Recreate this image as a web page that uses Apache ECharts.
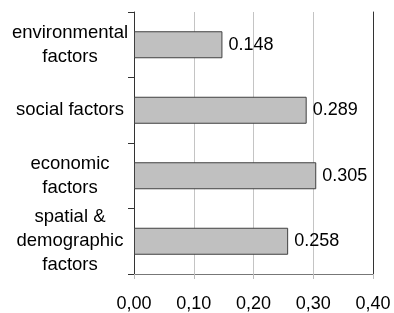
<!DOCTYPE html>
<html>
<head>
<meta charset="utf-8">
<script src="https://cdn.jsdelivr.net/npm/echarts@6/dist/echarts.min.js"></script>
<style>
	html, body { margin: 0; padding: 0; background: #fff; }
	#main { width: 394px; height: 313px; }
</style>
</head>
<body>
<div id="main"></div>
<script>
	// categories, top to bottom
	var categories = ['environmental\nfactors', 'social factors', 'economic\nfactors', 'spatial &\ndemographic\nfactors'];
	var values = [0.148, 0.289, 0.305, 0.258];
	var xTicks = [0, 0.1, 0.2, 0.3, 0.4];

	var font = 'Liberation Sans, Arial, sans-serif';
	var chart = echarts.init(document.getElementById('main'));

	chart.setOption({
		animation: false,
		grid: { left: 134, right: 21, top: 12, bottom: 37 },
		xAxis: {
			type: 'value',
			min: xTicks[0],
			max: xTicks[xTicks.length - 1],
			interval: 0.1,
			axisLine: { show: true, lineStyle: { color: '#777', width: 1 } },
			axisTick: { show: true, length: 5, lineStyle: { color: '#bbb' } },
			splitLine: { show: true, lineStyle: { color: '#c4c4c4', width: 1 } },
			axisLabel: {
				margin: 21,
				fontSize: 18,
				fontFamily: font,
				color: '#000',
				formatter: function(v){ return v.toFixed(2).replace('.', ','); }
			}
		},
		yAxis: [
			{
				type: 'category',
				inverse: true,
				data: categories,
				axisLine: { show: true, lineStyle: { color: '#333', width: 1 } },
				axisTick: { show: true, length: 6, lineStyle: { color: '#333' } },
				axisLabel: {
					margin: 64,
					align: 'center',
					fontSize: 18.5,
					lineHeight: 24,
					fontFamily: font,
					color: '#000'
				}
			},
			{
				type: 'category',
				position: 'right',
				inverse: true,
				data: categories,
				axisLine: { show: true, lineStyle: { color: '#333', width: 1 } },
				axisTick: { show: false },
				axisLabel: { show: false }
			}
		],
		series: [
			{
				type: 'bar',
				data: values,
				barWidth: 27,
				itemStyle: { color: '#c0c0c0', borderColor: '#404040', borderWidth: 1 },
				label: {
					show: true,
					position: 'right',
					distance: 6,
					fontSize: 18,
					fontFamily: font,
					color: '#000',
					formatter: function(p){ return p.value.toFixed(3); }
				}
			}
		]
	});
</script>
</body>
</html>
